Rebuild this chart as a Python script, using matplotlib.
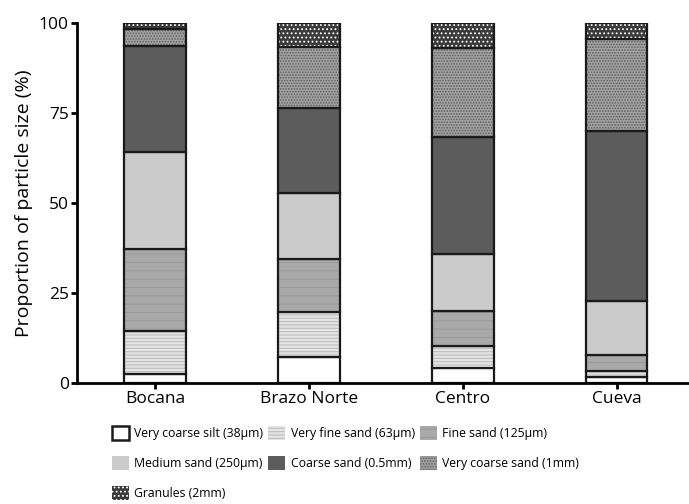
import matplotlib
matplotlib.use("Agg")
import matplotlib.pyplot as plt
import matplotlib.patches as mpatches
import numpy as np

plt.rcParams['font.family'] = ['Open Sans', 'DejaVu Sans']
plt.rcParams['hatch.linewidth'] = 0.8

# sites and fractions (% of sample)
sites = ["Bocana", "Brazo Norte", "Centro", "Cueva"]
classes = ["Very coarse silt (38µm)", "Very fine sand (63µm)", "Fine sand (125µm)",
           "Medium sand (250µm)", "Coarse sand (0.5mm)", "Very coarse sand (1mm)",
           "Granules (2mm)"]
silt = [2.4, 7.2, 4.1, 1.7]
very_fine = [12.0, 12.6, 6.1, 1.6]
fine = [22.7, 14.6, 9.9, 4.4]
medium = [26.9, 18.2, 15.7, 15.2]
coarse = [29.6, 23.8, 32.6, 47.1]
very_coarse = [4.7, 16.8, 24.7, 25.6]
granules = [1.7, 6.8, 6.9, 4.4]

series = [silt, very_fine, fine, medium, coarse, very_coarse, granules]

# fill, hatch colour, hatch
styles = [
    ("white", "white", None),
    ("#e4e4e4", "#bdbdbd", "-----"),
    ("#a9a9a9", "#9c9c9c", "--"),
    ("#cbcbcb", "#cbcbcb", None),
    ("#5c5c5c", "#5c5c5c", None),
    ("#a2a2a2", "#5e5e5e", "......"),
    ("#3a3a3a", "white", "...."),
]

fig = plt.figure(figsize=(6.89, 5.04), dpi=100)
ax = fig.add_axes([0.112, 0.240, 0.888, 0.715])

x = np.arange(len(sites))
width = 0.4
bottom = np.zeros(len(sites))
handles = []
for vals, (fc, hc, hatch), lab in zip(series, styles, classes):
    ax.bar(x, vals, width, bottom=bottom, color=fc, edgecolor=hc, hatch=hatch, linewidth=0)
    ax.bar(x, vals, width, bottom=bottom, fill=False, edgecolor="#1a1a1a", linewidth=1.6)
    bottom += np.array(vals)
    handles.append(mpatches.Patch(facecolor=fc, edgecolor=hc, hatch=hatch, linewidth=0, label=lab))

handles[0] = mpatches.Patch(facecolor="white", edgecolor="#1a1a1a", linewidth=1.8, label=classes[0])

ax.set_xlim(-0.506, 3.47)
ax.set_ylim(0, 100)
ax.set_xticks(x)
ax.set_xticklabels(sites, fontsize=12.5)
ax.set_yticks([0, 25, 50, 75, 100])
ax.tick_params(axis='y', labelsize=12.5, width=2, length=4, pad=2)
ax.tick_params(axis='x', width=2, length=4, pad=2)
ax.set_ylabel("Proportion of particle size (%)", fontsize=14, labelpad=4)
for s in ["top", "right"]:
    ax.spines[s].set_visible(False)
for s in ["left", "bottom"]:
    ax.spines[s].set_linewidth(2)

# order so that rows read left to right
order = [0, 3, 6, 1, 4, 2, 5]
fig.legend([handles[i] for i in order], [classes[i] for i in order],
           ncol=3, loc="upper left", bbox_to_anchor=(0.162, 0.155), frameon=False,
           fontsize=8.8, handlelength=1.4, handleheight=1.4, handletextpad=0.45,
           columnspacing=0.4, labelspacing=1.3, borderpad=0, borderaxespad=0)

fig.savefig("out.png", dpi=100)
